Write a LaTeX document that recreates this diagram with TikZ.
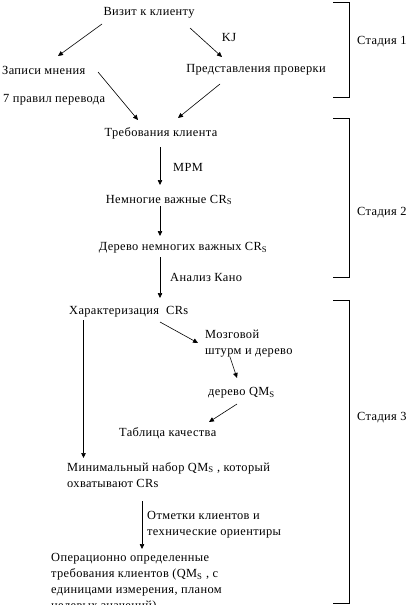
\documentclass[tikz,border=0pt]{standalone}
\usepackage{fontspec}
\setmainfont{Liberation Serif}[LetterSpace=3]
\usetikzlibrary{arrows.meta}
\begin{document}
\begin{tikzpicture}[x=1pt,y=-1pt,
  font=\fontsize{12.4}{16}\selectfont,
  every node/.style={inner sep=0pt},
  txt/.style={anchor=west},
  ml/.style={anchor=north west,align=left},
  arr/.style={-{Triangle[length=5pt,width=4.5pt]},line width=0.6pt},
  brk/.style={line width=0.8pt}]
\useasboundingbox (0,0) rectangle (409,605);
\begin{scope}
\clip (0,0) rectangle (409,605);
% nodes
\node (visit) at (149,13) {Визит к клиенту};
\node[txt] (zap) at (2,70) {Записи мнения};
\node (pred) at (256,70) {Представления проверки};
\node (kj) at (229,38) {KJ};
\node[txt] (sem) at (3,100) {7 правил перевода};
\node (treb) at (161,133) {Требования клиента};
\node[txt] (mpm) at (173,167) {MPM};
\node (nem) at (169,200) {Немногие важные CR\textsubscript{S}};
\node (der) at (183,248) {Дерево немногих важных CR\textsubscript{S}};
\node[txt] (kano) at (170,277) {Анализ Кано};
\node[txt] (har) at (69,312) {Характеризация\ \ CRs};
\node[ml] (mozg) at (205,330) {Мозговой\\штурм и дерево};
\node[txt] (qmt) at (208,393) {дерево QM\textsubscript{S}};
\node[txt] (tab) at (119,433) {Таблица качества};
\node[ml] (min) at (67,462) {Минимальный набор QM\textsubscript{S} , который\\охватывают CRs};
\node[ml] (otm) at (147,511) {Отметки клиентов и\\технические ориентиры};
\node[ml] (oper) at (51,553) {Операционно определенные\\требования клиентов (QM\textsubscript{S} , с\\единицами измерения, планом\\целевых значений)};
% stage labels
\node[txt] (st1) at (357,42) {Стадия 1};
\node[txt] (st2) at (357,213) {Стадия 2};
\node[txt] (st3) at (357,418) {Стадия 3};
% connectors
\draw[arr] ([shift={(-47,11)}]visit.center) -- ([shift={(56,-14)}]zap.west);
\draw[arr] ([shift={(41,15)}]visit.center) -- ([shift={(-34,-13)}]pred.center);
\draw[arr] ([shift={(96,2)}]zap.west) -- ([shift={(-23,-13)}]treb.center);
\draw[arr] ([shift={(-36,14)}]pred.center) -- ([shift={(17,-15)}]treb.center);
\draw[arr] ([shift={(-1,14)}]treb.center) -- ([shift={(-9,-15)}]nem.center);
\draw[arr] ([shift={(-9,6)}]nem.center) -- ([shift={(-23,-12)}]der.center);
\draw[arr] ([shift={(-23,9)}]der.center) -- ([shift={(91,-14)}]har.west);
\draw[arr] ([shift={(14.5,8)}]har.west) -- ([shift={(16.5,-4)}]min.north west);
\draw[arr] ([shift={(91,10)}]har.west) -- ([shift={(-7,13)}]mozg.north west);
\draw[arr] ([shift={(25,27)}]mozg.north west) -- ([shift={(29,-15)}]qmt.west);
\draw[arr] ([shift={(29,11)}]qmt.west) -- ([shift={(90,-11)}]tab.west);
\draw[arr] ([shift={(75,39)}]min.north west) -- ([shift={(91,-4)}]oper.north west);
% brackets
\draw[brk] (333,2) -- (349,2) -- (349,97) -- (333,97);
\draw[brk] (333,118) -- (349,118) -- (349,277) -- (333,277);
\draw[brk] (333,300) -- (349,300) -- (349,603) -- (333,603);
\end{scope}
\end{tikzpicture}
\end{document}
